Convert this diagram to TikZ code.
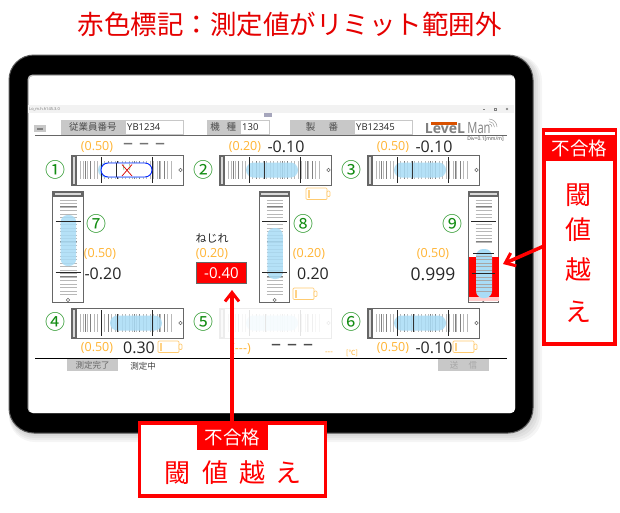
\documentclass[tikz,border=0pt]{standalone}
\usepackage{fontspec}
\setmainfont{Open Sans}
\newfontfamily\cjk{Noto Sans CJK JP}
\usetikzlibrary{arrows.meta}
\newcommand{\fs}[1]{\fontsize{#1}{#1}\selectfont}
\definecolor{limorange}{HTML}{FFB433}
\definecolor{numgreen}{HTML}{128C12}
\definecolor{bubbleblue}{HTML}{A9DCF6}
\definecolor{framegray}{HTML}{666666}
\definecolor{btngray}{HTML}{C8C8C8}
\tikzset{
    limit/.style={text=limorange, inner sep=0pt, font=\fs{12.5}},
    reading/.style={text=black!85, inner sep=0pt, font=\fs{16}},
    gaugenum/.style={text=numgreen, inner sep=0pt, font=\cjk\fs{20}},
    hdrlabel/.style={fill=btngray, text=black!70, inner sep=0pt, font=\cjk\fs{9.5}},
    hdrfield/.style={draw=btngray, fill=white, text=black!85, inner ysep=0pt, inner xsep=2pt, align=left, font=\fs{9.5}},
    callbox/.style={draw=red, fill=white, line width=3.5pt, inner sep=0pt},
    callbig/.style={text=red, inner sep=0pt, font=\cjk\fs{26}},
    callng/.style={text=white, inner sep=0pt, font=\cjk\fs{18.5}},
    redarrow/.style={red, line width=3.5pt, -{Straight Barb[length=9pt,width=14pt,line width=3pt]}},
    batt/.style={draw=limorange!70, fill=white, line width=0.7pt, rounded corners=1pt},
}

\begin{document}
\begin{tikzpicture}[x=1pt, y=-1pt, >=Stealth]
    \useasboundingbox (0,0) rectangle (620,512);
    \fill[white] (0,0) rectangle (620,512);

    % Title
    \node[text=red!90!black, inner sep=0pt, font=\cjk\fs{26.5}] (title) at (289.5,24) {赤色標記：測定値がリミット範囲外};

    % Tablet body with soft shadow
    \foreach \s in {1,3,5,7,9}
        \fill[black, opacity=0.04, rounded corners=26pt] (9,55) rectangle (533+\s,433+\s);
    \draw[fill=black, draw=black!65, line width=1pt, rounded corners=25pt] (9,55) rectangle (533,433);
    \fill[black!25, rounded corners=5pt] (27.5,74.5) rectangle (515,413);
    \fill[white, rounded corners=4pt] (29,76) rectangle (515,413);

    % Title bar of the window
    \fill[black!5] (28,105) rectangle (514,113);
    \node[text=black!55, inner sep=0pt, anchor=west, font=\fs{4}] (wintitle) at (29,109) {Lo\_m.h.h145.3.0};
    \fill[blue!25!black!35] (264,113) rectangle (272,117);
    \draw[black!50, line width=0.4pt] (483,109) -- (485,109);
    \draw[black!50, line width=0.4pt] (494,108) rectangle (496,110);
    \draw[black!50, line width=0.4pt] (506,108) -- (508,110) (506,110) -- (508,108);

    % Header row
    \fill[btngray] (34,125) rectangle (46,132);
    \draw[black!50, line width=0.4pt] (37,128) -- (43,128) (37,129.5) -- (43,129.5);
    \node[hdrlabel, minimum width=64.5pt, minimum height=15pt] (lblstaff) at (92.75,127) {従業員番号};
    \node[hdrfield, text width=54pt, minimum height=14pt, anchor=west] (fldstaff) at (125,127) {YB1234};
    \node[hdrlabel, minimum width=33.5pt, minimum height=15pt] (lblmodel) at (223.25,127) {機\hspace{0.7em}種};
    \node[hdrfield, text width=25pt, minimum height=14pt, anchor=west] (fldmodel) at (240,127) {130};
    \node[hdrlabel, minimum width=64pt, minimum height=15pt] (lblserial) at (322,127) {製\hspace{1.4em}番};
    \node[hdrfield, text width=54pt, minimum height=14pt, anchor=west] (fldserial) at (354,127) {YB12345};

    % Logo
    \fill[orange!75!red!85!black] (431,122) rectangle (457,125);
    \node[text=black!50, inner sep=0pt, font=\bfseries\fs{14}] (logolevel) at (445,129) {LeveL};
    \node[text=black!50, inner sep=0pt, xscale=0.72, font=\fs{15.5}] (logoman) at (479,128.5) {Man};
    \foreach \r in {3,5.5,8}
        \draw[black!40, line width=0.5pt] (489,127) ++(0:\r pt) arc[start angle=0, end angle=90, radius=\r pt];
    \node[text=black!75, inner sep=0pt, font=\fs{5}] (logodiv) at (485.5,139.5) {Div=0.1[mm/m]};
    \draw[framegray, line width=1.5pt] (35,135.5) -- (507,135.5);

    % Horizontal gauges
    \foreach \gx/\gy/\bx/\kx in {71/155/27/46, 219/155/27/45, 367/155/27/45, 71/308/39/46, 219/308/27/46, 367/308/27/46} {
        \begin{scope}[shift={(\gx,\gy)}]
            \fill[white] (0,0) rectangle (112,30.5);
            \foreach \t in {9,12.5,...,103}
                \draw[black!28, line width=0.8pt] (\t,6) -- (\t,23.5);
            \foreach \t in {14,19,37,63,68,88,93}
                \draw[black!50, line width=1pt] (\t,6) -- (\t,23.5);
            \fill[bubbleblue, opacity=0.85, rounded corners=7.5pt] (\bx,7.5) rectangle (\bx+52,22.5);
            \draw[black!80, line width=0.7pt] (\kx,6) -- (\kx,23.5);
            \draw[black!85, line width=0.8pt] (30,2) -- (30,28);
            \draw[black!85, line width=0.8pt] (81,2) -- (81,28);
            \draw[framegray, line width=0.9pt] (0,0) rectangle (112,30.5);
            \fill[framegray] (0,0) rectangle (6,30.5);
            \fill[black!15] (2,2) rectangle (4,28.5);
            \draw[framegray, line width=0.5pt, fill=white] (109.5,15) circle (1.7pt);
        \end{scope}
    }

    % Gauge 5 is greyed out
    \fill[white, opacity=0.88] (218,307) rectangle (332,339);

    % Gauge 1 has only an outline and a cross
    \fill[white, rounded corners=7pt] (101,163) rectangle (152,177);
    \draw[black!85, line width=0.8pt] (116.5,163) -- (116.5,177);
    \draw[green!55!black!60, line width=0.5pt] (124,170) arc[start angle=200, end angle=160, radius=9pt];
    \draw[green!55!black!60, line width=0.5pt] (129.5,170) arc[start angle=-20, end angle=20, radius=9pt];
    \draw[blue!85!cyan, line width=0.9pt, rounded corners=7pt] (101,163) rectangle (152,177);
    \draw[red!85!black, line width=0.7pt] (122,164.5) -- (132,176) (132,164.5) -- (122,176);

    % Vertical gauges
    \foreach \gx/\by in {52.7/24, 259.3/37, 468/58} {
        \begin{scope}[shift={(\gx,191)}]
            \fill[white] (0,0) rectangle (30.5,111);
            \foreach \t in {9,12.5,...,105}
                \draw[black!28, line width=0.8pt] (7.5,\t) -- (24,\t);
            \foreach \t in {15,50,85}
                \draw[black!50, line width=1pt] (7.5,\t) -- (24,\t);
            \fill[bubbleblue, opacity=0.85, rounded corners=7pt] (8,\by) rectangle (23.5,\by+51);
            \draw[black!85, line width=0.8pt] (3,30) -- (28,30);
            \draw[black!85, line width=0.8pt] (3,81) -- (28,81);
            \draw[framegray, line width=0.9pt] (0,0) rectangle (30.5,111);
            \fill[framegray] (0,0) rectangle (30.5,6);
            \fill[black!15] (2,2) rectangle (28.5,4);
            \draw[framegray, line width=0.5pt, fill=white] (15.3,109) circle (1.7pt);
        \end{scope}
    }

    % Gauge 9 is over the limit
    \fill[white] (469,243) rectangle (498,257);
    \fill[red] (468.5,257) rectangle (498.5,297);
    \fill[red!20] (468.5,297) rectangle (498.5,301);
    \fill[bubbleblue, rounded corners=7pt] (476,249) rectangle (492,298);
    \foreach \t in {256,259.5,...,294}
        \draw[black!35, line width=0.7pt] (476,\t) -- (492,\t);
    \draw[black!85, line width=0.8pt] (473,253.5) -- (494,253.5);
    \draw[black!85, line width=0.8pt] (472,273.5) -- (495,273.5);

    % Gauge numbers
    \node[gaugenum] (num1) at (55,170) {①};
    \node[gaugenum] (num2) at (203,170) {②};
    \node[gaugenum] (num3) at (351.7,170) {③};
    \node[gaugenum] (num4) at (55.7,322) {④};
    \node[gaugenum] (num5) at (203,322) {⑤};
    \node[gaugenum] (num6) at (351.7,322) {⑥};
    \node[gaugenum] (num7) at (96,224) {⑦};
    \node[gaugenum] (num8) at (303,224) {⑧};
    \node[gaugenum] (num9) at (452.7,224) {⑨};

    % Limits and readings
    \node[limit] (lim1) at (97,147) {(0.50)};
    \node[text=black!55, inner sep=0pt, font=\fs{20}] (val1) at (144,146) {–\hspace{6pt}–\hspace{6pt}–};
    \node[limit] (lim2) at (245,147) {(0.20)};
    \node[reading] (val2) at (286,147) {-0.10};
    \node[limit] (lim3) at (393,147) {(0.50)};
    \node[reading] (val3) at (434,147) {-0.10};
    \node[limit] (lim7) at (100,254) {(0.50)};
    \node[reading] (val7) at (103,274) {-0.20};
    \node[limit] (lim8) at (309,254) {(0.20)};
    \node[reading] (val8) at (313,274) {0.20};
    \node[limit] (lim9) at (433,254) {(0.50)};
    \node[reading, font=\fs{17.5}] (val9) at (433,274) {0.999};
    \node[limit] (lim4) at (97,348) {(0.50)};
    \node[reading] (val4) at (139,348) {0.30};
    \node[limit] (lim5) at (241,349) {({-}{-}{-})};
    \node[text=black!70, inner sep=0pt, font=\fs{20}] (val5) at (292,347) {–\hspace{6pt}–\hspace{6pt}–};
    \node[limit] (lim6) at (393,348) {(0.50)};
    \node[reading] (val6) at (434,348) {-0.10};
    \node[text=limorange, inner sep=0pt, font=\fs{8}] (tempval) at (329,353) {{-}{-}{-}};
    \node[text=limorange, inner sep=0pt, font=\cjk\fs{7}] (tempunit) at (352,353) {[℃]};

    % Torsion
    \node[text=black!85, inner sep=0pt, font=\cjk\fs{11}] (twistlbl) at (212,238) {ねじれ};
    \node[limit] (twistlim) at (212,254) {(0.20)};
    \node[draw=framegray, fill=red, text=white, line width=1pt, inner sep=0pt, minimum width=50pt, minimum height=21pt, font=\fs{15}] (twistval) at (221.5,273) {-0.40};

    % Batteries
    \foreach \bx/\by in {306/188, 293/288, 158/341, 453/341} {
        \draw[batt] (\bx,\by) rectangle (\bx+21,\by+11.5);
        \draw[batt] (\bx+21,\by+3) rectangle (\bx+24,\by+8.5);
        \fill[limorange!60] (\bx+1.5,\by+1.5) rectangle (\bx+4,\by+10);
    }

    % Footer
    \draw[black, line width=0.8pt] (35,358) -- (507,358);
    \node[hdrlabel, text=black!60, minimum width=51pt, minimum height=12pt, font=\cjk\fs{8.5}] (btndone) at (92.5,365) {測定完了};
    \node[text=black!75, inner sep=0pt, font=\cjk\fs{8.5}] (lblbusy) at (143,366) {測定中};
    \node[fill=btngray, text=black!35, inner sep=0pt, minimum width=51pt, minimum height=12pt, font=\cjk\fs{8.5}] (btnsend) at (463.5,365) {送\hspace{1.2em}信};

    % Callouts
    \coordinate (tipB) at (232,290);
    \coordinate (tailR) at (544,246);
    \coordinate (tipR) at (503,264);
    \node[callbox, minimum width=186pt, minimum height=73pt] (callB) at (232.25,459.7) {};
    \draw[redarrow] (callB.north -| tipB) -- (tipB);
    \fill[red] (197,425) rectangle (268,450);
    \node[callng] (ngB) at (232.5,437) {不合格};
    \node[callbig] (bigB1) at (177,473) {閾};
    \node[callbig] (bigB2) at (215,473) {値};
    \node[callbig] (bigB3) at (252,473) {越};
    \node[callbig] (bigB4) at (288,473) {え};

    \node[callbox, minimum width=71pt, minimum height=214pt] (callR) at (579.7,237) {};
    \draw[redarrow] (tailR) -- (tipR);
    \fill[red] (542.7,128) rectangle (616.7,161);
    \fill[white] (545,132) rectangle (615,135);
    \node[callng] (ngR) at (579.5,148) {不合格};
    \node[callbig] (bigR1) at (578,195) {閾};
    \node[callbig] (bigR2) at (578,230) {値};
    \node[callbig] (bigR3) at (578,270) {越};
    \node[callbig] (bigR4) at (578,312) {え};

\end{tikzpicture}
\end{document}
